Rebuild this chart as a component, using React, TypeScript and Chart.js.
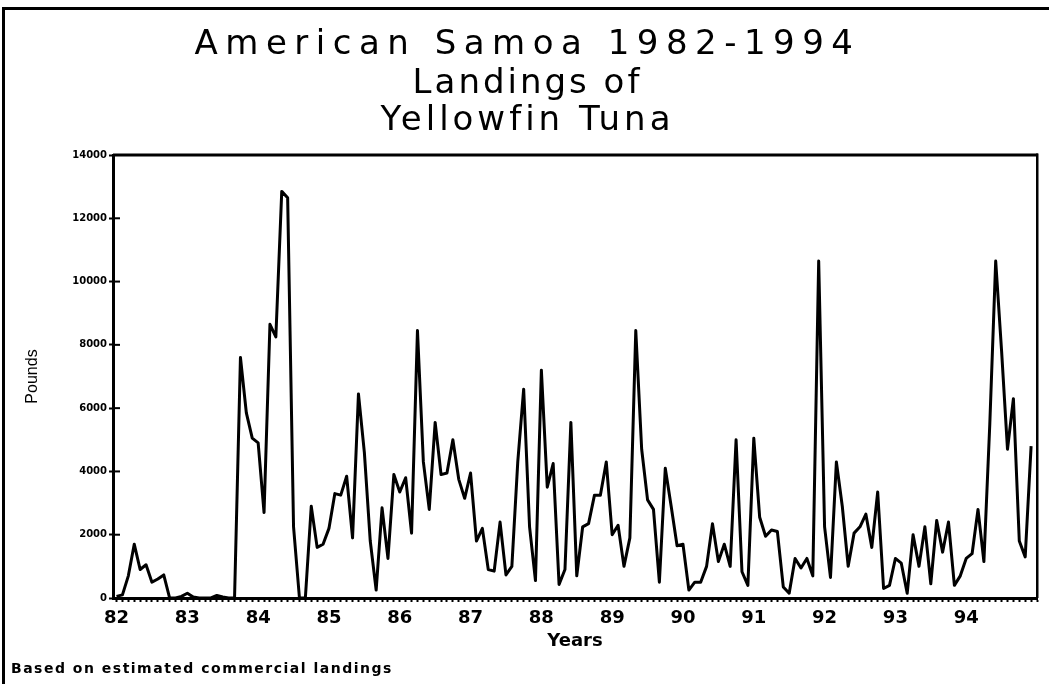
import { useEffect, useRef } from 'react';
import { Chart, registerables } from 'chart.js';

Chart.register(...registerables);

// ---- data (monthly landings, pounds) ----
const startYear = 82;
const yearLabels = ['82', '83', '84', '85', '86', '87', '88', '89', '90', '91', '92', '93', '94'];
const y1982 = [50, 100, 700, 1700, 900, 1050, 500, 600, 730, 0, 0, 50];
const y1983 = [150, 30, 0, 0, 0, 80, 30, 0, 0, 7600, 5850, 5050];
const y1984 = [4900, 2700, 8650, 8250, 12850, 12650, 2250, 0, 0, 2900, 1600, 1700];
const y1985 = [2200, 3300, 3250, 3850, 1900, 6450, 4600, 1800, 250, 2850, 1250, 3900];
const y1986 = [3350, 3800, 2050, 8450, 4300, 2800, 5550, 3900, 3950, 5000, 3750, 3150];
const y1987 = [3950, 1800, 2200, 900, 850, 2400, 730, 1000, 4300, 6600, 2250, 550];
const y1988 = [7200, 3500, 4250, 430, 900, 5550, 700, 2250, 2350, 3250, 3250, 4300];
const y1989 = [2000, 2300, 1000, 1900, 8450, 4700, 3100, 2800, 500, 4100, 2900, 1650];
const y1990 = [1700, 250, 500, 500, 1000, 2350, 1150, 1700, 1000, 5000, 830, 400];
const y1991 = [5050, 2550, 1950, 2150, 2100, 350, 150, 1250, 950, 1250, 700, 10650];
const y1992 = [2250, 650, 4300, 2900, 1000, 2050, 2250, 2650, 1600, 3350, 300, 400];
const y1993 = [1250, 1100, 150, 2000, 1000, 2250, 450, 2450, 1450, 2400, 400, 700];
const y1994 = [1250, 1400, 2800, 1150, 5500, 10650, 7800, 4700, 6300, 1800, 1300, 4800];
const monthlyByYear = [y1982, y1983, y1984, y1985, y1986, y1987, y1988, y1989, y1990, y1991, y1992, y1993, y1994];
const yTickValues = [0, 2000, 4000, 6000, 8000, 10000, 12000, 14000];

const titleLines = ['American Samoa 1982-1994', 'Landings of', 'Yellowfin Tuna'];
const footnote = 'Based on estimated commercial landings';
const xTitle = 'Years';
const yTitle = 'Pounds';

const points = monthlyByYear.flatMap((vals, yi) =>
  vals.map((v, m) => ({ x: startYear + yi + m / 12, y: v }))
);

const decorPlugin = {
  id: 'decor',
  beforeDraw(chart: any) {
    const ctx = chart.ctx;
    ctx.save();
    ctx.fillStyle = '#fff';
    ctx.fillRect(0, 0, chart.width, chart.height);
    ctx.fillStyle = '#000';
    // outer frame (left + top)
    ctx.fillRect(2, 7, 3, chart.height - 7);
    ctx.fillRect(2, 7, chart.width - 2, 3);
    ctx.restore();
  },
  afterDraw(chart: any) {
    const ctx = chart.ctx;
    const area = chart.chartArea;
    const yScale = chart.scales.y;
    ctx.save();
    ctx.fillStyle = '#000';
    ctx.strokeStyle = '#000';
    // top + right border of plot
    ctx.fillRect(area.left, area.top - 1.5, area.right - area.left + 1, 3);
    ctx.fillRect(area.right - 1, area.top - 1.5, 2.5, area.bottom - area.top + 1.5);
    // inward y ticks
    yScale.ticks.forEach((t: any) => {
      const py = yScale.getPixelForValue(t.value);
      ctx.fillRect(area.left, py - 1, 7, 2);
    });
    // titles
    ctx.textAlign = 'center';
    ctx.textBaseline = 'middle';
    ctx.font = 'normal 34px "DejaVu Sans", sans-serif';
    const cx = chart.width / 2 + 3;
    const ys = [45, 84, 121];
    const spacings = ['7.5px', '3px', '4px'];
    titleLines.forEach((line, i) => {
      (ctx as any).letterSpacing = spacings[i];
      ctx.fillText(line, cx, ys[i]);
    });
    // footnote
    ctx.textAlign = 'left';
    ctx.font = 'bold 14px "DejaVu Sans", sans-serif';
    (ctx as any).letterSpacing = '1.5px';
    ctx.fillText(footnote, 11, 669);
    (ctx as any).letterSpacing = '0px';
    ctx.restore();
  },
};

const isWhole = (v: number) => Math.abs(v - Math.round(v)) < 1e-6;

export default function App() {
  const ref = useRef<HTMLCanvasElement | null>(null);
  useEffect(() => {
    if (!ref.current) return;
    const chart = new Chart(ref.current, {
      type: 'line',
      data: {
        datasets: [
          {
            data: points,
            borderColor: '#000',
            borderWidth: 3,
            pointRadius: 0,
            tension: 0,
            fill: false,
            borderJoinStyle: 'round',
          },
        ],
      },
      options: {
        animation: false,
        responsive: false,
        maintainAspectRatio: false,
        layout: { padding: { top: 155, right: 12, bottom: 24, left: 0 } },
        plugins: {
          legend: { display: false },
          tooltip: { enabled: false },
          title: { display: false },
        },
        scales: {
          x: {
            type: 'linear',
            min: 81.95,
            max: 95,
            afterBuildTicks: (scale: any) => {
              const ticks = [];
              for (let i = 0; i <= yearLabels.length * 12; i++) ticks.push({ value: startYear + i / 12 });
              scale.ticks = ticks;
            },
            afterFit: (scale: any) => {
              scale.height = 62;
            },
            ticks: {
              autoSkip: false,
              maxRotation: 0,
              minRotation: 0,
              padding: 6,
              color: '#000',
              font: { family: '"DejaVu Sans", sans-serif', size: 18, weight: 'bold' },
              callback: (v: any) => {
                const n = Number(v);
                if (!isWhole(n)) return '';
                const idx = Math.round(n) - startYear;
                return yearLabels[idx] ?? '';
              },
            },
            grid: {
              display: true,
              drawOnChartArea: false,
              drawTicks: true,
              tickLength: 4,
              tickWidth: 2,
              color: '#000',
            },
            border: { display: true, color: '#000', width: 3 },
            title: {
              display: true,
              text: xTitle,
              color: '#000',
              font: { family: '"DejaVu Sans", sans-serif', size: 18, weight: 'bold' },
              padding: { top: 0, bottom: 8 },
            },
          },
          y: {
            type: 'linear',
            min: 0,
            max: 14000,
            afterBuildTicks: (scale: any) => {
              scale.ticks = yTickValues.map((v) => ({ value: v }));
            },
            afterFit: (scale: any) => {
              scale.width = 113;
            },
            ticks: {
              padding: 2,
              color: '#000',
              font: { family: '"DejaVu Sans", sans-serif', size: 10, weight: 'bold' },
              callback: (v: any) => String(v),
            },
            grid: {
              display: true,
              drawOnChartArea: false,
              drawTicks: true,
              tickLength: 4,
              tickWidth: 2,
              color: '#000',
            },
            border: { display: true, color: '#000', width: 3 },
            title: {
              display: true,
              text: yTitle,
              color: '#000',
              font: { family: '"Liberation Sans Narrow", "Liberation Sans", sans-serif', size: 16 },
              padding: { top: 23, bottom: 0 },
            },
          },
        },
      },
      plugins: [decorPlugin],
    } as any);
    return () => chart.destroy();
  }, []);
  return (
    <div style={{ position: 'absolute', left: 0, top: 0, width: 1049, height: 684, background: '#fff' }}>
      <canvas ref={ref} width={1049} height={684} style={{ width: 1049, height: 684, display: 'block' }} />
    </div>
  );
}
